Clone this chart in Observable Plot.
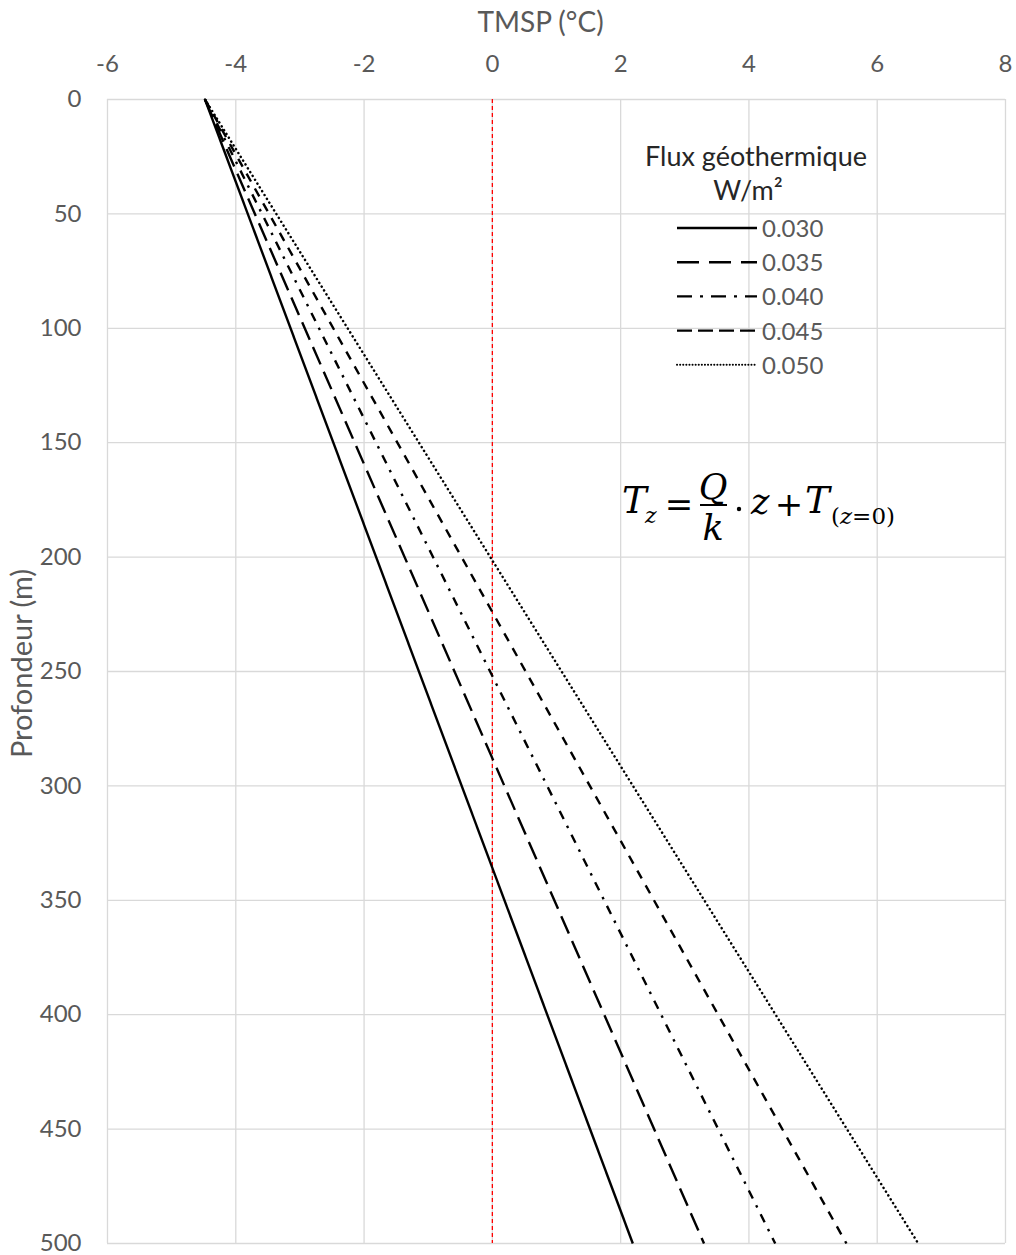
<!DOCTYPE html>
<html><head><meta charset="utf-8">
<script src="https://cdn.jsdelivr.net/npm/d3@7"></script>
<script src="https://cdn.jsdelivr.net/npm/@observablehq/plot@0.6"></script>
<style>
body{margin:0;background:#fff;}
#wrap{position:relative;width:1016px;height:1255px;font-family:Lato,"Open Sans",sans-serif;}
#wrap svg.overlay{position:absolute;left:0;top:0;pointer-events:none;}
</style></head><body><div id="wrap"></div>
<script>
// ---- data ----
const fluxValues = [0.030, 0.035, 0.040, 0.045, 0.050];
const fluxLabels = ["0.030", "0.035", "0.040", "0.045", "0.050"];
const depths = [0, 500];                                 // m
const surfaceTemp = [-4.48, -4.48, -4.48, -4.48, -4.48]; // °C at z = 0
const bottomTemp = [2.19, 3.30, 4.41, 5.52, 6.64];       // °C at z = 500 m
const xTicks = [-6, -4, -2, 0, 2, 4, 6, 8];
const yTicks = [0, 50, 100, 150, 200, 250, 300, 350, 400, 450, 500];
const lineDash = ["none", "19,8", "9,7.5,2.5,7.5", "9,8", "0.1,4.4"];
const legendDash = ["none", "22,10", "15,8,3,8", "15,6", "0.1,3"];

const rows = [];
fluxLabels.forEach((f, i) => {
  rows.push({flux: f, depth: depths[0], T: surfaceTemp[i]});
  rows.push({flux: f, depth: depths[1], T: bottomTemp[i]});
});

const grey = "#595959";
const chart = Plot.plot({
  width: 1016, height: 1255,
  marginTop: 99, marginBottom: 12, marginLeft: 107, marginRight: 11,
  style: {fontFamily: "Lato, 'Open Sans', sans-serif", fontSize: "24px", color: grey, background: "white"},
  x: {domain: [-6, 8]},
  y: {domain: [0, 500], reverse: true},
  marks: [
    Plot.gridX(xTicks, {stroke: "#d9d9d9", strokeOpacity: 1, strokeWidth: 1.3}),
    Plot.gridY(yTicks, {stroke: "#d9d9d9", strokeOpacity: 1, strokeWidth: 1.3}),
    Plot.ruleX([0], {stroke: "#ff0000", strokeDasharray: "4,3", strokeWidth: 1.3}),
    ...fluxLabels.map((f, i) => Plot.line(rows.filter(d => d.flux === f), {
      x: "T", y: "depth", stroke: "black",
      strokeWidth: i === 4 ? 2.5 : 2.4,
      strokeLinecap: i === 4 ? "round" : "butt",
      strokeDasharray: lineDash[i] === "none" ? undefined : lineDash[i]
    })),
    Plot.axisX(xTicks, {anchor: "top", tickSize: 0, tickPadding: 28, fill: grey, fontSize: 24,
      tickFormat: d => String(d),
      label: "TMSP (°C)", labelAnchor: "center", labelArrow: "none", labelOffset: 87}),
    Plot.axisY(yTicks, {anchor: "left", tickSize: 0, tickPadding: 26, fill: grey, fontSize: 24,
      tickFormat: d => String(d),
      label: "Profondeur (m)", labelAnchor: "center", labelArrow: "none", labelOffset: 96})
  ]
});
// axis titles: size and small offsets as in the reference
d3.select(chart).selectAll("text").each(function() {
  const t = this.textContent;
  if (t === "TMSP (°C)") d3.select(this).attr("font-size", 28).attr("dx", -16);
  if (t === "Profondeur (m)") d3.select(this).attr("font-size", 29).attr("dx", 8);
});

const wrap = document.getElementById("wrap");
wrap.appendChild(chart);

// ---- legend and formula overlay ----
const svg = d3.select(wrap).append("svg").attr("class", "overlay")
  .attr("width", 1016).attr("height", 1255);
const lg = svg.append("g").style("font-family", "Lato, 'Open Sans', sans-serif");
lg.append("text").attr("x", 756).attr("y", 166).attr("text-anchor", "middle").attr("font-size", 27)
  .attr("fill", "#262626").text("Flux géothermique");
lg.append("text").attr("x", 748).attr("y", 200).attr("text-anchor", "middle").attr("font-size", 27)
  .attr("fill", "#262626").text("W/m²");
fluxLabels.forEach((f, i) => {
  const y = 228 + i * 34.2;
  lg.append("line").attr("x1", 677).attr("x2", 757).attr("y1", y).attr("y2", y)
    .attr("stroke", "black").attr("stroke-width", i === 4 ? 2 : 2.4)
    .attr("stroke-linecap", i === 4 ? "round" : "butt")
    .attr("stroke-dasharray", legendDash[i] === "none" ? null : legendDash[i]);
  lg.append("text").attr("x", 762).attr("y", y + 9).attr("font-size", 24).attr("fill", grey).text(f);
});

const fm = svg.append("g").style("font-family", "'DejaVu Serif', 'Liberation Serif', serif").attr("fill", "black");
const it = (x, y, s, size, anchor) => fm.append("text").attr("x", x).attr("y", y)
  .attr("font-size", size).attr("font-style", "italic").attr("text-anchor", anchor || "start").text(s);
const up = (x, y, s, size, anchor) => fm.append("text").attr("x", x).attr("y", y)
  .attr("font-size", size).attr("text-anchor", anchor || "start").text(s);
it(622, 513, "T", 37);
it(645, 523, "z", 22);
up(679, 516, "=", 34, "middle");
it(713, 499, "Q", 35, "middle");
fm.append("line").attr("x1", 700).attr("x2", 727).attr("y1", 505).attr("y2", 505).attr("stroke", "black").attr("stroke-width", 2);
it(713, 540, "k", 35, "middle");
fm.append("circle").attr("cx", 739).attr("cy", 509).attr("r", 2.2);
it(751, 514, "z", 35);
up(789, 516, "+", 34, "middle");
it(805, 513, "T", 37);
fm.append("text").attr("x", 831).attr("y", 524).attr("font-size", 23)
  .html('(<tspan font-style="italic">z</tspan>=0)');
</script>
</body></html>
